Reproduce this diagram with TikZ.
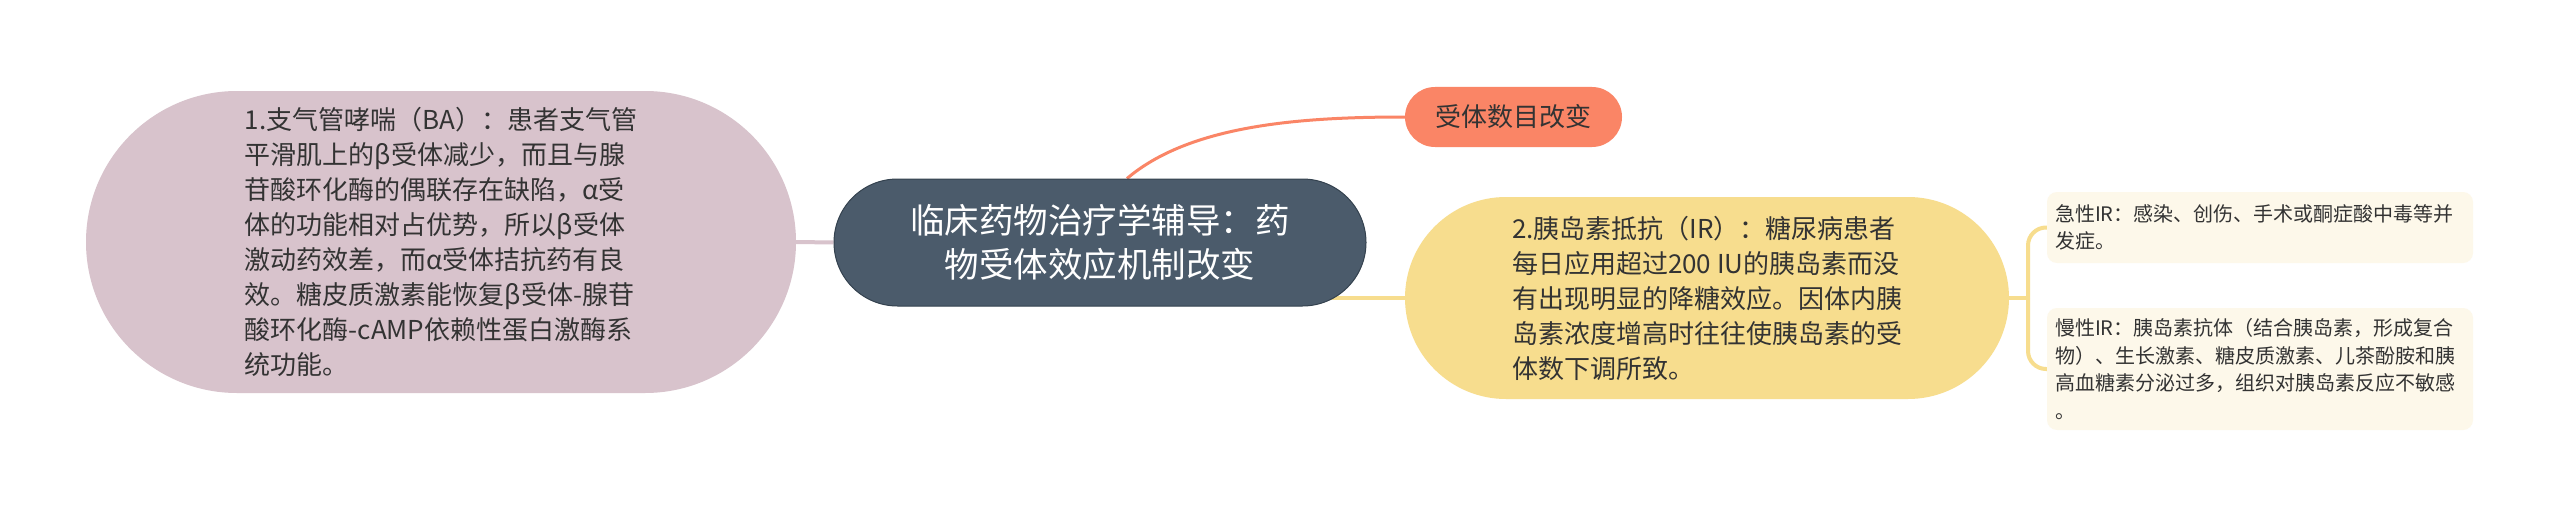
\documentclass[tikz,border=0pt]{standalone}
\usepackage{fontspec}
\setmainfont{Noto Sans CJK SC}
\usetikzlibrary{backgrounds,shapes.misc}
\definecolor{pinkfill}{HTML}{D8C3CC}
\definecolor{slate}{HTML}{4B5B6B}
\definecolor{slateedge}{HTML}{34424F}
\definecolor{salmon}{HTML}{FA8566}
\definecolor{yellowf}{HTML}{F7DD8E}
\definecolor{cream}{HTML}{FDF8EA}
\definecolor{txt}{HTML}{333333}
\begin{document}
\begin{tikzpicture}[x=1pt,y=-1pt,
  base/.style={inner sep=0pt, text=txt},
  stadium/.style={base, rounded rectangle},
  leftbox/.style={stadium, fill=pinkfill, minimum width=710pt, minimum height=302pt, align=left, font=\fontsize{26pt}{35pt}\selectfont},
  rootbox/.style={stadium, fill=slate, draw=slateedge, line width=1pt, text=white, minimum width=532pt, minimum height=127pt, align=center, font=\fontsize{34.5pt}{44pt}\selectfont},
  topicbox/.style={stadium, fill=salmon, minimum width=217pt, minimum height=60pt, font=\fontsize{26pt}{32pt}\selectfont},
  yellowbox/.style={stadium, fill=yellowf, minimum width=604pt, minimum height=202pt, align=left, font=\fontsize{26pt}{35pt}\selectfont},
  leafbox/.style={base, rectangle, rounded corners=10pt, fill=cream, minimum width=426pt, text width=410pt, align=left, font=\fontsize{20pt}{27.5pt}\selectfont},
  pinkline/.style={draw=pinkfill, line width=4pt},
  salmonline/.style={draw=salmon, line width=3pt},
  yellowline/.style={draw=yellowf, line width=4pt}
]
\useasboundingbox (0,0) rectangle (2560,519);
\begin{scope}[on background layer]
  \fill[white] (0,0) rectangle (2560,519);
\end{scope}

\node[leftbox] (ba) at (441,242) {1.支气管哮喘（BA）：患者支气管\\平滑肌上的β受体减少，而且与腺\\苷酸环化酶的偶联存在缺陷，α受\\体的功能相对占优势，所以β受体\\激动药效差，而α受体拮抗药有良\\效。糖皮质激素能恢复β受体-腺苷\\酸环化酶-cAMP依赖性蛋白激酶系\\统功能。};

\node[rootbox] (root) at (1100,242.5) {临床药物治疗学辅导：药\\物受体效应机制改变};

\node[topicbox] (topic) at (1513.5,117) {受体数目改变};

\node[yellowbox] (ir) at (1707,298) {2.胰岛素抵抗（IR）：糖尿病患者\\每日应用超过200 IU的胰岛素而没\\有出现明显的降糖效应。因体内胰\\岛素浓度增高时往往使胰岛素的受\\体数下调所致。};

\node[leafbox, minimum height=71pt] (acute) at (2260,227.5) {急性IR：感染、创伤、手术或酮症酸中毒等并\\发症。};

\node[leafbox, minimum height=122pt] (chronic) at (2260,369) {慢性IR：胰岛素抗体（结合胰岛素，形成复合\\物）、生长激素、糖皮质激素、儿茶酚胺和胰\\高血糖素分泌过多，组织对胰岛素反应不敏感\\。};

\coordinate (fork) at (2028,298);

\begin{scope}[on background layer]
  \draw[pinkline] (ba.east) -- (root.west);
  \draw[salmonline] ([xshift=27pt]root.north) .. controls (1190,125) and (1300,117) .. (topic.west);
  \draw[yellowline] (ir.west) -- (ir.west -| root.center);
  \draw[yellowline] (ir.east) -- (fork);
  \draw[yellowline, rounded corners=18pt] (fork) |- (acute.west);
  \draw[yellowline, rounded corners=18pt] (fork) |- (chronic.west);
\end{scope}
\end{tikzpicture}
\end{document}
